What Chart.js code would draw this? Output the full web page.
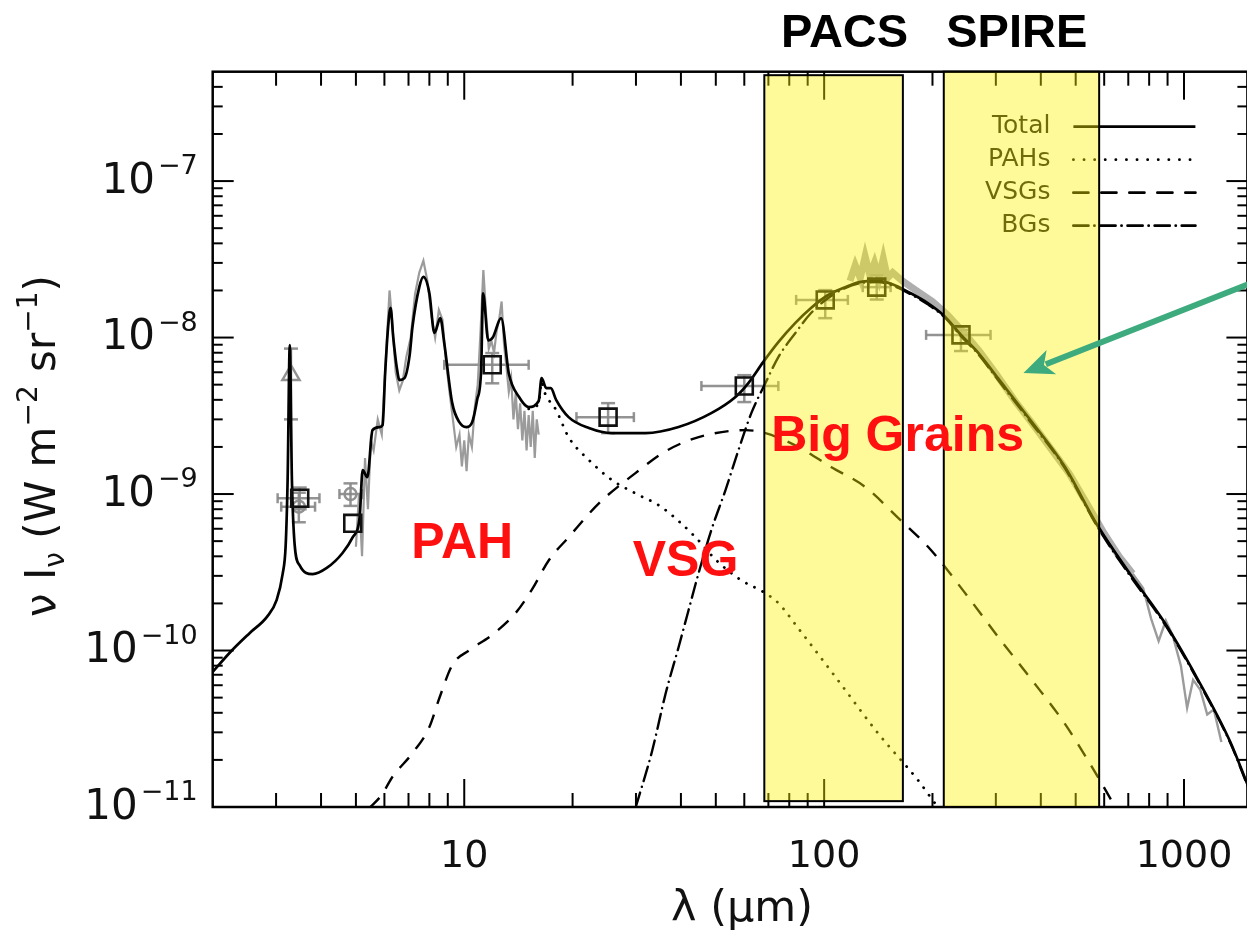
<!DOCTYPE html>
<html>
<head>
<meta charset="utf-8">
<script src="https://cdn.jsdelivr.net/npm/chart.js@4.4.1/dist/chart.umd.min.js"></script>
<style>
html, body { margin: 0; padding: 0; overflow: hidden; background: #fff; }
#wrap { width: 1247px; height: 933px; overflow: hidden; }
</style>
</head>
<body>
<div id="wrap"><canvas id="sed" width="1262" height="933"></canvas></div>
<script>
// model curves, wavelength in micron, nu I_nu in W m-2 sr-1
const totalLam = [2.0, 2.26, 2.54, 2.83, 3.01, 3.13, 3.19, 3.23, 3.275, 3.32, 3.38, 3.49, 3.79, 4.15, 4.59, 4.9, 5.12, 5.22, 5.38, 5.56,
  5.81, 5.93, 6.03, 6.15, 6.24, 6.35, 6.49, 6.61, 6.82, 7.05, 7.18, 7.5, 7.7, 8.0, 8.26, 8.58, 8.8, 9.26, 9.69, 10.13,
  10.52, 10.86, 11.14, 11.28, 11.66, 12.0, 12.66, 13.3, 14.2, 15.1, 16.1, 16.4, 16.9, 17.4, 18.0, 19.5, 22.2, 25.7, 31.9, 39.4,
  48.7, 56.7, 61.5, 67.7, 74.6, 83.2, 92.1, 102.6, 114.3, 126.6, 141, 157, 174, 194, 216, 240, 267, 304, 374, 465,
  574, 708, 881, 1087, 1341, 1503];
const totalVal = [7.3e-11, 1.0e-10, 1.3e-10, 1.64e-10, 2.1e-10, 3.1e-10, 4.7e-10, 1.23e-9, 8.95e-9, 1.23e-9, 4.7e-10, 3.5e-10, 3.08e-10, 3.37e-10, 4.2e-10, 5.3e-10, 7.1e-10, 1.42e-9, 1.28e-9, 2.56e-9,
  2.68e-9, 2.76e-9, 6.0e-9, 1.2e-8, 1.55e-8, 1.0e-8, 6.5e-9, 5.35e-9, 5.5e-9, 7.7e-9, 1.17e-8, 2.1e-8, 2.44e-8, 1.92e-8, 1.07e-8, 1.33e-8, 9.2e-9, 3.81e-9, 2.88e-9, 2.68e-9,
  2.88e-9, 4.0e-9, 6.2e-9, 1.92e-8, 9.6e-9, 1.0e-8, 1.33e-8, 5.9e-9, 4.17e-9, 3.6e-9, 3.93e-9, 5.5e-9, 4.75e-9, 4.75e-9, 4.0e-9, 3.1e-9, 2.64e-9, 2.45e-9, 2.45e-9, 2.68e-9,
  3.3e-9, 4.17e-9, 5.1e-9, 6.97e-9, 9.35e-9, 1.24e-8, 1.55e-8, 1.87e-8, 2.1e-8, 2.27e-8, 2.3e-8, 2.16e-8, 1.92e-8, 1.66e-8, 1.37e-8, 1.04e-8, 8.07e-9, 5.5e-9, 2.97e-9, 1.51e-9,
  6.34e-10, 3.08e-10, 1.52e-10, 6.67e-11, 2.64e-11, 1.38e-11];

const pahLam = [15.1, 16.1, 16.4, 16.7, 18.0, 19.5, 22.2, 25.7, 29.9, 35.3, 43.9, 50.0, 58.7, 67.7, 74.6, 84.7, 109, 141, 182, 207, 235];
const pahVal = [3.5e-9, 3.8e-9, 5.2e-9, 4.49e-9, 3.44e-9, 2.31e-9, 1.65e-9, 1.23e-9, 1.01e-9, 8.26e-10, 5.3e-10, 3.8e-10, 2.82e-10, 2.37e-10, 2.01e-10, 1.39e-10, 6.5e-11, 2.97e-11, 1.49e-11, 1.0e-11, 7.1e-12];

const vsgLam = [5.46, 5.89, 6.32, 7.18, 8.0, 8.53, 9.26, 10.3, 11.96, 13.9, 15.4, 17.2, 19.5, 23.7, 29.9, 36.3, 44.8, 60.4, 68.7, 84.7,
  104.5, 130, 160, 198, 245, 303, 374, 465, 574, 652];
const vsgVal = [9.9e-12, 1.19e-11, 1.56e-11, 2.21e-11, 3.24e-11, 4.97e-11, 8.07e-11, 1.0e-10, 1.26e-10, 1.74e-10, 2.44e-10, 3.79e-10, 5.3e-10, 8.75e-10, 1.36e-9, 1.88e-9, 2.31e-9, 2.56e-9, 2.45e-9, 2.0e-9,
  1.49e-9, 1.11e-9, 7.1e-10, 4.39e-10, 2.37e-10, 1.24e-10, 6.67e-11, 3.44e-11, 1.58e-11, 9.5e-12];

const bgLam = [29.96, 33.2, 36.3, 39.4, 42.0, 44.8, 48.6, 53.2, 57.8, 62.8, 68.7, 74.6, 83.2, 92.1, 102.6, 114.3, 126.6, 141, 157, 174,
  194, 216, 240, 267, 304, 374, 465, 574, 708, 881, 1087, 1341, 1503];
const bgVal = [1e-11, 2.24e-11, 5.35e-11, 1.05e-10, 1.81e-10, 3.13e-10, 5.89e-10, 1.06e-9, 1.91e-9, 3.3e-9, 5.12e-9, 7.5e-9, 1.07e-8, 1.44e-8, 1.79e-8, 2.07e-8, 2.23e-8, 2.26e-8, 2.12e-8, 1.89e-8,
  1.63e-8, 1.35e-8, 1.02e-8, 7.9e-9, 5.37e-9, 2.9e-9, 1.48e-9, 6.2e-10, 3.0e-10, 1.49e-10, 6.55e-11, 2.6e-11, 1.36e-11];

// observed spectra (grey)
const irsLam = [5.0, 5.1, 5.2, 5.3, 5.4, 5.5, 5.6, 5.75, 5.9, 6.05, 6.2, 6.3, 6.45, 6.6, 6.75, 6.9, 7.1, 7.3, 7.5, 7.7,
  7.9, 8.1, 8.3, 8.5, 8.7, 8.9, 9.1, 9.3, 9.5, 9.7, 9.85, 10.0, 10.15, 10.3, 10.5, 10.7, 10.9, 11.1, 11.3, 11.5,
  11.7, 11.9, 12.1, 12.3, 12.5, 12.7, 12.9, 13.1, 13.3, 13.5, 13.7, 13.9, 14.1, 14.3, 14.5, 14.7, 14.9, 15.1, 15.3, 15.5,
  15.7, 15.9, 16.1];
const irsVal = [4.6e-10, 1.0e-9, 4.0e-10, 1.7e-9, 8e-10, 2.2e-9, 1.9e-9, 3.0e-9, 2.4e-9, 7e-9, 2.0e-8, 1.3e-8, 6e-9, 4.6e-9, 5.3e-9, 7.5e-9, 1.0e-8, 1.9e-8, 2.6e-8, 3.1e-8,
  2.3e-8, 1.4e-8, 1.0e-8, 1.5e-8, 1.3e-8, 7e-9, 4.5e-9, 3.0e-9, 2.0e-9, 2.4e-9, 1.5e-9, 2.2e-9, 1.4e-9, 2.4e-9, 2.0e-9, 3.6e-9, 5.0e-9, 1.1e-8, 2.7e-8, 1.4e-8,
  8.5e-9, 9.5e-9, 8e-9, 1.1e-8, 1.3e-8, 1.7e-8, 9e-9, 6.5e-9, 4.5e-9, 5.5e-9, 3.0e-9, 4.4e-9, 2.6e-9, 3.8e-9, 2.2e-9, 3.4e-9, 1.9e-9, 3.2e-9, 2.0e-9, 3.4e-9,
  1.7e-9, 3.0e-9, 2.4e-9];

const firLam = [118, 122, 126, 130, 134, 138, 142, 146, 150, 155, 165, 180, 200, 220, 245, 270, 300, 340, 380, 430, 480, 540, 600, 660, 720];
const firVal = [2.3e-8, 2.9e-8, 2.4e-8, 3.3e-8, 2.5e-8, 3.0e-8, 2.4e-8, 3.2e-8, 2.4e-8, 2.6e-8, 2.3e-8, 2.0e-8, 1.7e-8, 1.4e-8, 1.07e-8, 8.2e-9, 5.9e-9, 3.9e-9, 2.8e-9, 1.9e-9, 1.35e-9, 8.5e-10, 5.6e-10, 4.0e-10, 3.1e-10];
const tailLam = [720, 770, 810, 850, 890, 930, 980, 1020, 1060, 1110, 1160, 1210, 1270];
const tailVal = [3.1e-10, 2.5e-10, 1.6e-10, 1.15e-10, 1.55e-10, 1.25e-10, 8e-11, 4.3e-11, 6.5e-11, 5.6e-11, 3.9e-11, 4.2e-11, 2.6e-11];

// photometry
const obsLam = [3.49, 4.9, 11.96, 25.1, 60, 100.7, 140, 240];
const obsVal = [9.4e-10, 6.5e-10, 6.7e-9, 3.1e-9, 4.9e-9, 1.74e-8, 2.1e-8, 1.04e-8];
const obsLamLo = [3.03, 4.9, 8.8, 20.5, 45.6, 83.6, 128, 192];
const obsLamHi = [3.96, 4.9, 15.1, 29.6, 74.6, 116.4, 153, 290];
const obsValLo = [8.0e-10, 6.5e-10, 5.1e-9, 2.45e-9, 3.87e-9, 1.33e-8, 1.75e-8, 8.2e-9];
const obsValHi = [1.1e-9, 6.5e-10, 7.96e-9, 3.81e-9, 5.75e-9, 2.01e-8, 2.5e-8, 1.12e-8];

const greyLam = [3.3, 3.47, 4.83];
const greyVal = [5.76e-9, 8.3e-10, 1.0e-9];
const greyLamLo = [3.3, 3.1, 4.5];
const greyLamHi = [3.3, 3.85, 5.22];
const greyValLo = [3.0e-9, 6.6e-10, 8.4e-10];
const greyValHi = [8.5e-9, 1.02e-9, 1.17e-9];
const greyStyle = ['triangle', 'circle', 'circle'];

// axes
const xTickValues = [10, 100, 1000];
const xTickLabels = ['10', '100', '1000'];
const yTickValues = [1e-11, 1e-10, 1e-9, 1e-8, 1e-7];
const yTickExps = ['\u221211', '\u221210', '\u22129', '\u22128', '\u22127'];

// instrument bands and notes
const bandLo = [68.2, 215];
const bandHi = [165.5, 581];
const bandTop = [4.75e-7, 5e-7];
const bandBottom = [1.09e-11, 1e-11];
const bandTitles = ['PACS', 'SPIRE'];
const bandTitleLam = [114, 343];

const noteText = ['PAH', 'VSG', 'Big Grains'];
const noteLam = [9.87, 41.2, 160];
const noteVal = [5.08e-10, 3.9e-10, 2.45e-9];
const arrowFrom = [1615, 2.33e-8];
const arrowTo = [358, 5.93e-9];

const legendNames = ['Total', 'PAHs', 'VSGs', 'BGs'];
const legendDash = [[], [0.1, 10.5], [15, 13], [15, 6, 0.1, 6]];

const FONT = '"DejaVu Sans", sans-serif';
const BOLD = 'bold 50px "Liberation Sans", Arial, sans-serif';

function pairs(xs, ys) {
    return xs.map((x, i) => ({ x: x, y: ys[i] }));
}

function line(ctx, x1, y1, x2, y2) {
    ctx.beginPath();
    ctx.moveTo(x1, y1);
    ctx.lineTo(x2, y2);
    ctx.stroke();
}

function drawRich(ctx, segs) {
    let total = 0;
    const widths = segs.map(s => {
        ctx.font = s.s + 'px ' + FONT;
        const w = ctx.measureText(s.t).width;
        total += w;
        return w;
    });
    let x = -total / 2;
    segs.forEach((s, i) => {
        ctx.font = s.s + 'px ' + FONT;
        ctx.fillText(s.t, x, s.dy || 0);
        x += widths[i];
    });
}

function errorBars(ctx, xs, ys, lam, val, lo, hi, vlo, vhi) {
    lam.forEach((l, i) => {
        const px = xs.getPixelForValue(l);
        const py = ys.getPixelForValue(val[i]);
        if (hi[i] > lo[i]) {
            const a = xs.getPixelForValue(lo[i]), b = xs.getPixelForValue(hi[i]);
            line(ctx, a, py, b, py);
            line(ctx, a, py - 5, a, py + 5);
            line(ctx, b, py - 5, b, py + 5);
        }
        if (vhi[i] > vlo[i]) {
            const a = ys.getPixelForValue(vhi[i]), b = ys.getPixelForValue(vlo[i]);
            line(ctx, px, a, px, b);
            line(ctx, px - 7, a, px + 7, a);
            line(ctx, px - 7, b, px + 7, b);
        }
    });
}

const sedPlugin = {
    id: 'sed',
    beforeDatasetsDraw(chart) {
        const ctx = chart.ctx, xs = chart.scales.x, ys = chart.scales.y;
        ctx.save();
        ctx.strokeStyle = 'rgba(135,135,135,0.9)';
        ctx.lineWidth = 2.5;
        errorBars(ctx, xs, ys, obsLam, obsVal, obsLamLo, obsLamHi, obsValLo, obsValHi);
        errorBars(ctx, xs, ys, greyLam, greyVal, greyLamLo, greyLamHi, greyValLo, greyValHi);
        ctx.restore();
    },
    afterDatasetsDraw(chart) {
        const ctx = chart.ctx, xs = chart.scales.x, ys = chart.scales.y, a = chart.chartArea;
        ctx.save();
        // ticks on all four sides, pointing inwards
        ctx.strokeStyle = '#000';
        ctx.lineWidth = 2;
        [1, 10, 100, 1000].forEach(d => {
            for (let k = 2; k <= 9; k++) {
                const v = k * d;
                if (v <= xs.min || v >= xs.max) continue;
                const p = xs.getPixelForValue(v);
                line(ctx, p, a.bottom, p, a.bottom - 14);
                line(ctx, p, a.top, p, a.top + 14);
            }
        });
        xTickValues.forEach(v => {
            const p = xs.getPixelForValue(v);
            line(ctx, p, a.bottom, p, a.bottom - 28);
            line(ctx, p, a.top, p, a.top + 28);
        });
        for (let n = -11; n <= -7; n++) {
            for (let k = 2; k <= 9; k++) {
                const v = k * Math.pow(10, n);
                if (v >= ys.max) continue;
                const p = ys.getPixelForValue(v);
                line(ctx, a.left, p, a.left + 10, p);
                line(ctx, a.right, p, a.right - 10, p);
            }
        }
        yTickValues.forEach(v => {
            const p = ys.getPixelForValue(v);
            line(ctx, a.left, p, a.left + 21, p);
            line(ctx, a.right, p, a.right - 21, p);
        });
        ctx.lineWidth = 2.5;
        ctx.strokeRect(a.left, a.top, a.right - a.left, a.bottom - a.top);

        // legend
        ctx.fillStyle = '#111';
        ctx.font = '25px ' + FONT;
        ctx.textAlign = 'right';
        ctx.textBaseline = 'middle';
        legendNames.forEach((name, i) => {
            const y = a.top + 55 + i * 33;
            ctx.fillText(name, a.right - 197, y);
            ctx.setLineDash(legendDash[i]);
            ctx.lineCap = i === 0 ? 'butt' : 'round';
            ctx.lineWidth = 2.8;
            line(ctx, a.right - 174, y, a.right - 52, y);
        });
        ctx.setLineDash([]);
        ctx.lineCap = 'butt';

        // PACS / SPIRE bands
        bandLo.forEach((lo, i) => {
            const x1 = xs.getPixelForValue(lo), x2 = xs.getPixelForValue(bandHi[i]);
            const y1 = ys.getPixelForValue(bandTop[i]), y2 = ys.getPixelForValue(bandBottom[i]);
            ctx.fillStyle = 'rgba(255,242,0,0.40)';
            ctx.fillRect(x1, y1, x2 - x1, y2 - y1);
            ctx.strokeStyle = '#000';
            ctx.lineWidth = 2;
            ctx.strokeRect(x1, y1, x2 - x1, y2 - y1);
        });
        ctx.restore();
    },
    afterDraw(chart) {
        const ctx = chart.ctx, xs = chart.scales.x, ys = chart.scales.y, a = chart.chartArea;
        ctx.save();
        ctx.fillStyle = '#111';
        // x tick labels
        ctx.font = '38px ' + FONT;
        ctx.textAlign = 'center';
        ctx.textBaseline = 'middle';
        xTickValues.forEach((v, i) => {
            ctx.fillText(xTickLabels[i], xs.getPixelForValue(v), a.bottom + 50);
        });
        // y tick labels 10^n
        yTickValues.forEach((v, i) => {
            const y = ys.getPixelForValue(v);
            ctx.textAlign = 'right';
            ctx.font = '27px ' + FONT;
            const ew = ctx.measureText(yTickExps[i]).width;
            ctx.textBaseline = 'middle';
            ctx.fillText(yTickExps[i], a.left - 15, y - 14);
            ctx.font = '42px ' + FONT;
            ctx.fillText('10', a.left - 18 - ew, y + 1);
        });
        // axis titles
        ctx.textAlign = 'left';
        ctx.textBaseline = 'alphabetic';
        ctx.save();
        ctx.translate(742, 921);
        drawRich(ctx, [{ t: '\u03bb (\u03bcm)', s: 43 }]);
        ctx.restore();
        ctx.save();
        ctx.translate(55, 446);
        ctx.rotate(-Math.PI / 2);
        drawRich(ctx, [
            { t: '\u03bd', s: 42 }, { t: ' I', s: 42 }, { t: '\u03bd', s: 28, dy: 9 },
            { t: ' (W m', s: 42 }, { t: '\u22122', s: 28, dy: -18 },
            { t: ' sr', s: 42 }, { t: '\u22121', s: 28, dy: -18 }, { t: ')', s: 42 }
        ]);
        ctx.restore();

        // band titles
        ctx.font = 'bold 47px "Liberation Sans", Arial, sans-serif';
        ctx.fillStyle = '#000';
        ctx.textAlign = 'center';
        bandTitles.forEach((t, i) => {
            ctx.fillText(t, xs.getPixelForValue(bandTitleLam[i]), 47);
        });

        // red notes
        ctx.font = BOLD;
        ctx.fillStyle = '#ff1010';
        noteText.forEach((t, i) => {
            ctx.fillText(t, xs.getPixelForValue(noteLam[i]), ys.getPixelForValue(noteVal[i]) + 18);
        });

        // green arrow
        const x1 = xs.getPixelForValue(arrowFrom[0]), y1 = ys.getPixelForValue(arrowFrom[1]);
        const x2 = xs.getPixelForValue(arrowTo[0]), y2 = ys.getPixelForValue(arrowTo[1]);
        const ang = Math.atan2(y2 - y1, x2 - x1);
        const hl = 30, hw = 13;
        const bx = x2 - hl * Math.cos(ang), by = y2 - hl * Math.sin(ang);
        ctx.strokeStyle = '#3dab7e';
        ctx.fillStyle = '#3dab7e';
        ctx.lineWidth = 6;
        line(ctx, x1, y1, bx + 6 * Math.cos(ang), by + 6 * Math.sin(ang));
        ctx.beginPath();
        ctx.moveTo(x2, y2);
        ctx.lineTo(bx - hw * Math.sin(ang), by + hw * Math.cos(ang));
        ctx.lineTo(bx + 8 * Math.cos(ang), by + 8 * Math.sin(ang));
        ctx.lineTo(bx + hw * Math.sin(ang), by - hw * Math.cos(ang));
        ctx.closePath();
        ctx.fill();
        ctx.restore();
    }
};

const lineDefaults = { showLine: true, pointRadius: 0, fill: false, cubicInterpolationMode: 'monotone' };

const canvas = document.getElementById('sed');
new Chart(canvas, {
    type: 'scatter',
    data: {
        datasets: [
            {
                label: 'Photometry', data: pairs(obsLam, obsVal), showLine: false,
                pointStyle: 'rect', pointRadius: 12, borderColor: '#111', borderWidth: 2.6,
                backgroundColor: 'rgba(0,0,0,0)'
            },
            Object.assign({ label: 'Total', data: pairs(totalLam, totalVal), borderColor: '#000', borderWidth: 2.7 }, lineDefaults),
            {
                label: 'Other', data: pairs(greyLam, greyVal), showLine: false,
                pointStyle: greyStyle, pointRadius: [10, 6, 6], borderColor: 'rgba(140,140,140,0.95)', borderWidth: 2.4,
                backgroundColor: 'rgba(0,0,0,0)'
            },
            Object.assign({ label: 'BGs', data: pairs(bgLam, bgVal), borderColor: '#000', borderWidth: 2.4,
                borderDash: [15, 6, 0.1, 6], borderCapStyle: 'round' }, lineDefaults),
            Object.assign({ label: 'VSGs', data: pairs(vsgLam, vsgVal), borderColor: '#000', borderWidth: 2.4,
                borderDash: [14, 11] }, lineDefaults),
            Object.assign({ label: 'PAHs', data: pairs(pahLam, pahVal), borderColor: '#000', borderWidth: 2.8,
                borderDash: [0.1, 9], borderCapStyle: 'round' }, lineDefaults),
            { label: 'IRS', data: pairs(irsLam, irsVal), showLine: true, pointRadius: 0, fill: false,
                borderColor: 'rgba(150,150,150,0.95)', borderWidth: 2.2 },
            { label: 'FIR', data: pairs(firLam, firVal), showLine: true, pointRadius: 0, fill: false,
                borderColor: 'rgba(160,160,160,0.85)', borderWidth: 7 },
            { label: 'FIR tail', data: pairs(tailLam, tailVal), showLine: true, pointRadius: 0, fill: false,
                borderColor: 'rgba(150,150,150,0.95)', borderWidth: 2.4 }
        ]
    },
    options: {
        responsive: false,
        animation: false,
        devicePixelRatio: 1,
        layout: { padding: { left: 212.7, top: 71.7, right: canvas.width - 1251, bottom: canvas.height - 807 } },
        scales: {
            x: { type: 'logarithmic', min: 2, max: 1500, display: false },
            y: { type: 'logarithmic', min: 1e-11, max: 5e-7, display: false }
        },
        plugins: { legend: { display: false }, tooltip: { enabled: false } }
    },
    plugins: [sedPlugin]
});
</script>
</body>
</html>
